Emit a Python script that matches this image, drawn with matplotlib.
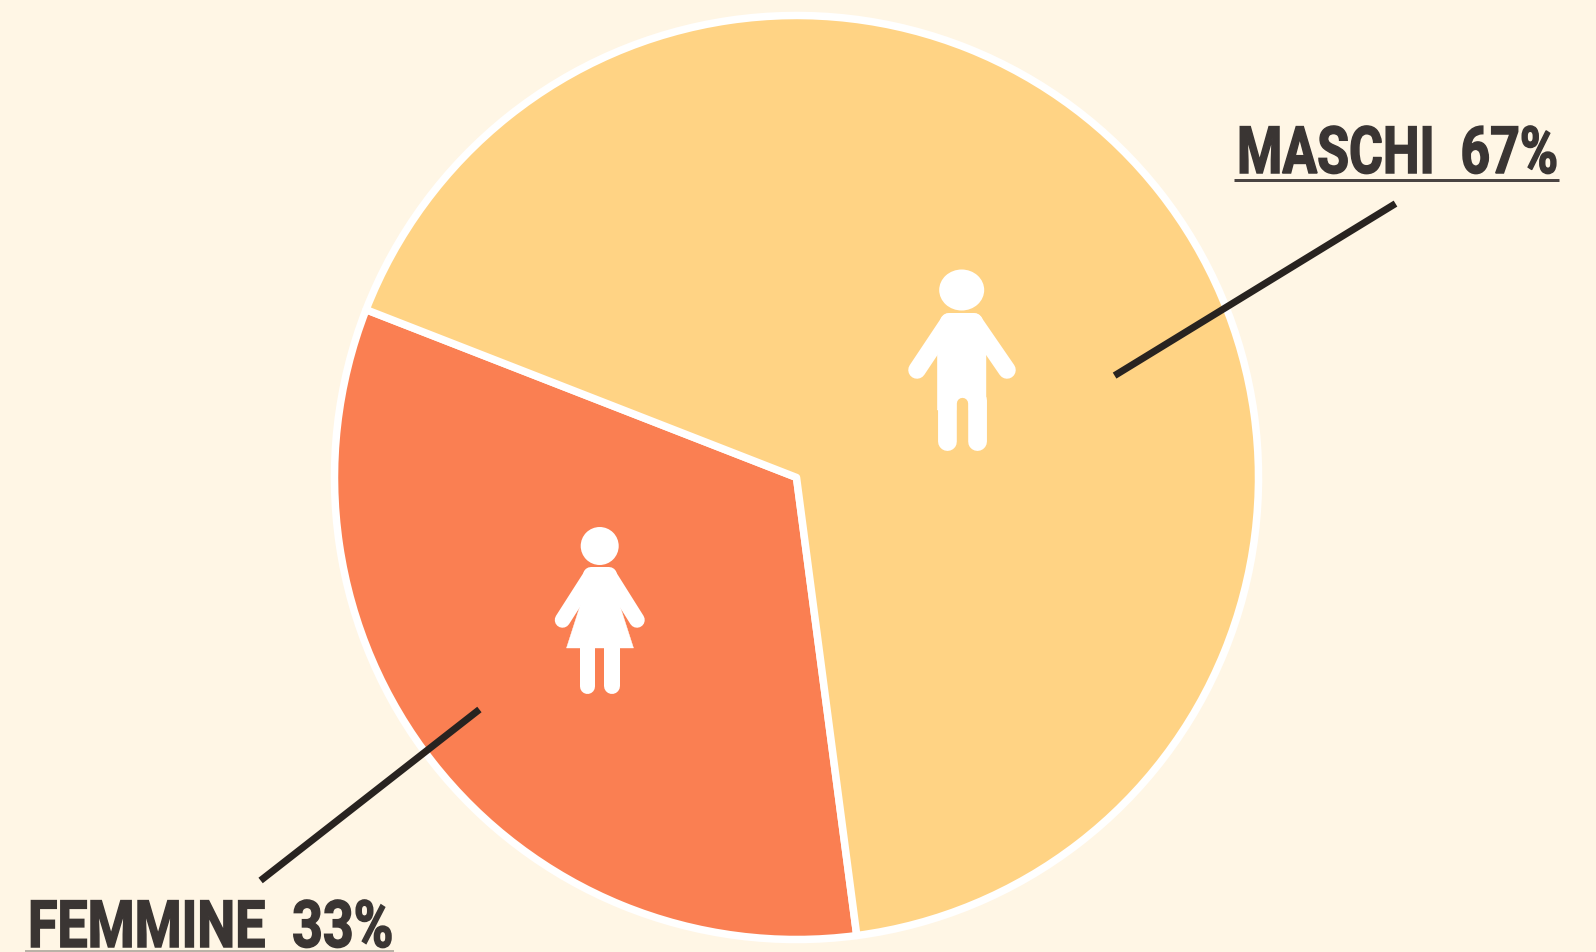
import matplotlib
matplotlib.use("Agg")
import matplotlib.pyplot as plt
from matplotlib.patches import Ellipse, Polygon
from matplotlib.patheffects import AbstractPathEffect
from matplotlib.transforms import Affine2D

# Data
categories = ["FEMMINE", "MASCHI"]
shares = [33, 67]
colors = ["#FA7F52", "#FFD384"]
labels = ["FEMMINE  33%", "MASCHI  67%"]

BG = "#FFF6E5"
INK = "#3A3533"
LINE = "#282320"
W, H = 1596, 952
PX = 0.72  # points per pixel at dpi 100


def Y(py):
    return H - py


class Squeeze(AbstractPathEffect):
    """Narrows and thickens the glyphs of a real text about a pixel x, and shifts them down."""

    def __init__(self, sx, anchor_x, down=0, stroke=1.5):
        super().__init__()
        self.sx, self.anchor_x, self.down, self.stroke = sx, anchor_x, down, stroke

    def draw_path(self, renderer, gc, tpath, affine, rgbFace=None):
        t = affine + Affine2D().translate(-self.anchor_x, -self.down).scale(self.sx, 1).translate(self.anchor_x, 0)
        gc0 = renderer.new_gc()
        gc0.copy_properties(gc)
        gc0.set_linewidth(self.stroke * PX)
        gc0.set_foreground(INK)
        gc0.set_joinstyle("miter")
        renderer.draw_path(gc0, tpath, t, rgbFace)
        gc0.restore()


fig = plt.figure(figsize=(W / 100, H / 100), dpi=100, facecolor=BG)
ax = fig.add_axes([0, 0, 1, 1])
ax.set_facecolor(BG)

ax.pie(shares, colors=colors, startangle=158.7, center=(796.5, Y(477.5)), radius=462,
       frame=False, wedgeprops=dict(edgecolor="white", linewidth=7.5 * PX, joinstyle="round"))
ax.set_xlim(0, W)
ax.set_ylim(0, H)
ax.set_aspect("equal")
ax.axis("off")


def seg(x0, y0, x1, y1, w, color="white", cap="round", z=4):
    ax.plot([x0, x1], [Y(y0), Y(y1)], color=color, lw=w * PX,
            solid_capstyle=cap, zorder=z)


def poly(pts, z=4):
    ax.add_patch(Polygon([(x, Y(y)) for x, y in pts], closed=True, facecolor="white",
                         edgecolor="white", lw=0.3, zorder=z))


# Male icon
ax.add_patch(Ellipse((961.7, Y(290)), 45, 41, color="white", lw=0, zorder=4))
seg(949, 322, 974, 322, 18)
poly([(949, 320), (974, 320), (986, 345), (986, 410), (937.3, 410), (937.3, 345)])
seg(949, 322, 917, 370, 17.5)
seg(974, 322, 1007, 370, 17.5)
seg(946.6, 400, 946.6, 441, 18.9)
seg(976.6, 400, 976.6, 441, 18.9)
seg(961.7, 402.5, 961.7, 460, 11.3, color=colors[1], z=4.5)

# Female icon
ax.add_patch(Ellipse((599.7, Y(546)), 38, 38, color="white", lw=0, zorder=4))
seg(591, 575, 609, 575, 16)
poly([(591, 573), (609, 573), (620, 606), (633.5, 648), (566.5, 648), (580, 606)])
seg(590, 577, 562.5, 620, 15.5)
seg(610, 577, 637, 620, 15.5)
seg(586.8, 645, 586.8, 686, 15)
seg(612, 645, 612, 686, 16)

# Leader lines
seg(1395.5, 203.6, 1114.6, 375.6, 7, color=LINE, cap="butt", z=5)
seg(479.4, 709.5, 260.6, 880.5, 7, color=LINE, cap="butt", z=5)

# Labels: real text, narrowed to the reference's condensed width
FONT = dict(family="Roboto", weight="bold", color=INK, fontsize=47, va="baseline")
t_m = ax.text(1558, Y(173), labels[1], ha="right", **FONT)
t_f = ax.text(28, Y(936), labels[0], ha="left", **FONT)
fig.canvas.draw()
rend = fig.canvas.get_renderer()
t_m.set_path_effects([Squeeze(321 / t_m.get_window_extent(rend).width, 1558)])
t_f.set_path_effects([Squeeze(365 / t_f.get_window_extent(rend).width, 28, down=11)])

seg(1234, 179.7, 1559, 179.7, 3, color="#4A4442", cap="butt", z=5)
seg(25, 951, 394, 951, 1.5, color="#A39C93", cap="butt", z=5)

fig.savefig("out.png", dpi=100, facecolor=BG)
